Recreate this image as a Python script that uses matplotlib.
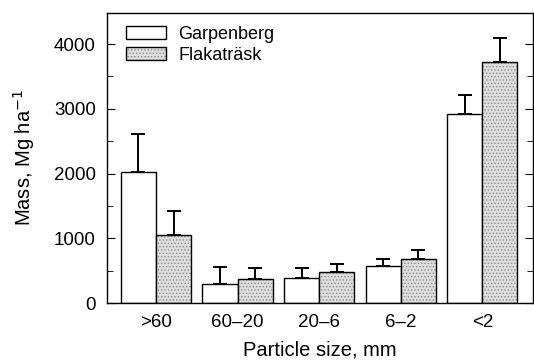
import matplotlib
matplotlib.use("Agg")
import matplotlib.pyplot as plt
import numpy as np
from matplotlib.patches import Patch
from matplotlib.legend_handler import HandlerTuple
from matplotlib.ticker import MultipleLocator

plt.rcParams['font.family'] = ['Liberation Sans', 'DejaVu Sans']
plt.rcParams['hatch.linewidth'] = 0.6

categories = [">60", "60\u201320", "20\u20136", "6\u20132", "<2"]
garpenberg = [2030, 290, 390, 575, 2925]
garpenberg_err = [580, 270, 155, 110, 290]
flakatrask = [1055, 365, 485, 685, 3725]
flakatrask_err = [365, 170, 115, 140, 375]

fig = plt.figure(figsize=(5.34, 3.64), dpi=100)
ax = fig.add_axes([107/534, 1-303/364, 426/534, 290/364])

x = np.arange(len(categories))
w = 0.43

ax.bar(x - w/2, garpenberg, w, facecolor='white', edgecolor='black', linewidth=1.0, zorder=2)
ax.bar(x + w/2, flakatrask, w, facecolor='#dedede', edgecolor='#8a8a8a', hatch='.....', linewidth=0, zorder=2)
ax.bar(x + w/2, flakatrask, w, fill=False, edgecolor='black', linewidth=1.0, zorder=3)

ax.errorbar(x - w/2, garpenberg, yerr=[np.zeros(5), garpenberg_err], fmt='none',
            ecolor='black', elinewidth=1.4, capsize=4.7, capthick=1.4, zorder=1)
ax.errorbar(x + w/2, flakatrask, yerr=[np.zeros(5), flakatrask_err], fmt='none',
            ecolor='black', elinewidth=1.4, capsize=4.7, capthick=1.4, zorder=1)

ax.set_xlim(-0.6, 4.62)
ax.set_ylim(0, 4480)
ax.set_xticks(x)
ax.set_xticklabels(categories, fontsize=13.5)
ax.tick_params(axis='x', length=0, pad=8)
ax.yaxis.set_major_locator(MultipleLocator(1000))
ax.yaxis.set_minor_locator(MultipleLocator(500))
ax.tick_params(axis='y', which='both', direction='in', right=True, labelsize=13.5, pad=8)
ax.tick_params(axis='y', which='major', length=6)
ax.tick_params(axis='y', which='minor', length=4)
for s in ax.spines.values():
    s.set_linewidth(1.0)

ax.set_ylabel("Mass, Mg ha$^{-1}$", fontsize=14.5, labelpad=12)
ax.set_xlabel("Particle size, mm", fontsize=14.5, labelpad=7)

h1 = Patch(facecolor='white', edgecolor='black', linewidth=1.0)
h2a = Patch(facecolor='#dedede', edgecolor='#8a8a8a', hatch='.....', linewidth=0)
h2b = Patch(fill=False, edgecolor='black', linewidth=1.0)
ax.legend([h1, (h2a, h2b)], ["Garpenberg", "Flakatr\u00e4sk"],
          handler_map={tuple: HandlerTuple(ndivide=1, pad=0)},
          loc='upper left', bbox_to_anchor=(0.045, 0.955), frameon=False,
          borderpad=0, borderaxespad=0, handlelength=2.2, handleheight=0.7,
          handletextpad=0.7, labelspacing=0.2, fontsize=13)

fig.savefig("out.png", dpi=100)
